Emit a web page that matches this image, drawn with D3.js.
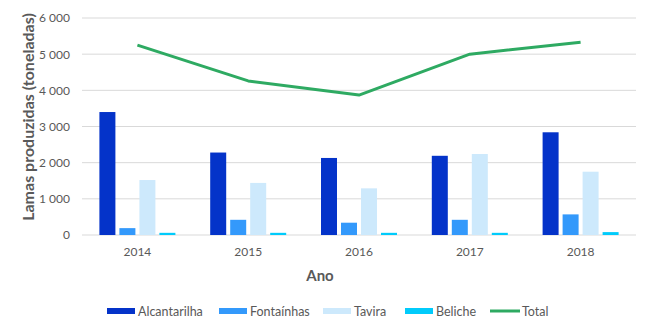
<!DOCTYPE html>
<html>
<head>
<meta charset="utf-8">
<script src="https://cdn.jsdelivr.net/npm/d3@7"></script>
<style>
  html, body { margin: 0; padding: 0; background: #fff; }
  svg { display: block; font-family: Lato, "Open Sans", sans-serif; }
</style>
</head>
<body>
<svg id="chart" width="650" height="326"></svg>
<script>
// Sludge produced per treatment plant (tonnes), 2014–2018
const years = ["2014", "2015", "2016", "2017", "2018"];
const alcantarilha = [3400, 2280, 2130, 2190, 2840];
const fontainhas = [190, 420, 340, 420, 570];
const tavira = [1520, 1440, 1290, 2240, 1750];
const beliche = [60, 60, 60, 60, 80];
const total = [5250, 4260, 3870, 5000, 5330];
const yTicks = [0, 1000, 2000, 3000, 4000, 5000, 6000];

const barSeries = [
  { name: "Alcantarilha", values: alcantarilha, color: "#0433c9" },
  { name: "Fontaínhas", values: fontainhas, color: "#3399fb" },
  { name: "Tavira", values: tavira, color: "#cde9fc" },
  { name: "Beliche", values: beliche, color: "#01cbfb" }
];
const totalColor = "#2eaa62";
const textColor = "#595959";

const svg = d3.select("#chart");
const margin = { left: 82, right: 14, top: 18, bottom: 91 };
const W = 650, H = 326;

const x = d3.scaleBand().domain(years).range([margin.left, W - margin.right]).paddingInner(0).paddingOuter(0);
const y = d3.scaleLinear().domain([0, 6000]).range([H - margin.bottom, margin.top]);
const inner = d3.scaleBand().domain(barSeries.map(s => s.name))
  .range([17.4, x.bandwidth() - 17.4]).paddingInner(0.2).paddingOuter(0);

// gridlines
svg.append("g").selectAll("line").data(yTicks).join("line")
  .attr("x1", margin.left).attr("x2", W - margin.right)
  .attr("y1", d => y(d)).attr("y2", d => y(d))
  .attr("stroke", "#d9d9d9").attr("stroke-width", 1);

// y axis tick labels
const fmt = d => d === 0 ? "0" : d3.format(",")(d).replace(/,/g, " ");
svg.append("g").attr("transform", `translate(${margin.left - 12},0)`)
  .call(d3.axisLeft(y).tickValues(yTicks).tickFormat(fmt).tickSize(0).tickPadding(0))
  .call(g => g.select(".domain").remove())
  .call(g => g.selectAll("text").attr("fill", textColor).attr("font-size", 12).attr("font-family", "Lato, sans-serif"));

// x axis labels
svg.append("g").attr("transform", `translate(0,${y(0)})`)
  .call(d3.axisBottom(x).tickSize(0).tickPadding(12))
  .call(g => g.select(".domain").remove())
  .call(g => g.selectAll("text").attr("fill", textColor).attr("font-size", 12).attr("font-family", "Lato, sans-serif"));

// bars
barSeries.forEach(s => {
  svg.append("g").selectAll("rect").data(s.values).join("rect")
    .attr("x", (d, i) => x(years[i]) + inner(s.name))
    .attr("width", inner.bandwidth())
    .attr("y", d => y(d))
    .attr("height", d => y(0) - y(d))
    .attr("fill", s.color);
});

// total line
const line = d3.line()
  .x((d, i) => x(years[i]) + x.bandwidth() / 2)
  .y(d => y(d));
svg.append("path").datum(total)
  .attr("d", line).attr("fill", "none")
  .attr("stroke", totalColor).attr("stroke-width", 3).attr("stroke-linejoin", "round");

// axis titles
svg.append("text")
  .attr("transform", `translate(34,117) rotate(-90)`)
  .attr("text-anchor", "middle").attr("fill", textColor)
  .attr("font-size", 16).attr("font-weight", "bold")
  .text("Lamas produzidas (toneladas)");
svg.append("text")
  .attr("x", 320).attr("y", 281)
  .attr("text-anchor", "middle").attr("fill", textColor)
  .attr("font-size", 15).attr("font-weight", "bold")
  .text("Ano");

// legend
const legendItems = [
  ...barSeries.map(s => ({ name: s.name, color: s.color, type: "bar" })),
  { name: "Total", color: totalColor, type: "line" }
];
const legendX = [107, 219, 323, 405, 490];
const lg = svg.append("g");
legendItems.forEach((it, i) => {
  const gx = legendX[i], gy = 311;
  if (it.type === "bar") {
    lg.append("rect").attr("x", gx).attr("y", gy - 3).attr("width", 28).attr("height", 6).attr("fill", it.color);
  } else {
    lg.append("line").attr("x1", gx).attr("x2", gx + 30).attr("y1", gy).attr("y2", gy)
      .attr("stroke", it.color).attr("stroke-width", 3);
  }
  lg.append("text").attr("x", gx + (it.type === "bar" ? 31 : 32)).attr("y", gy + 4.5)
    .attr("fill", textColor).attr("font-size", 12.5).text(it.name);
});
</script>
</body>
</html>
